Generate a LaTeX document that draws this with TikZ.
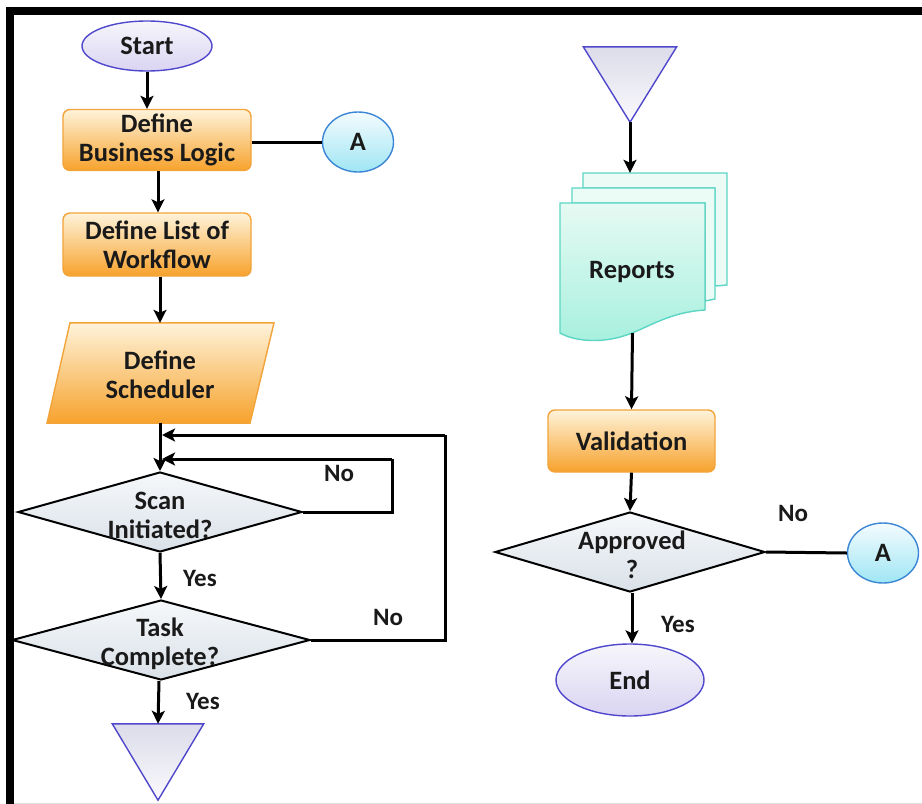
\documentclass[tikz,border=0pt]{standalone}
\usepackage{fontspec}
\setmainfont{Carlito}
\usetikzlibrary{shapes.geometric,arrows.meta,calc}

\definecolor{ink}{HTML}{1A1A1A}
\definecolor{orgTop}{HTML}{FEF3DA}
\definecolor{orgBot}{HTML}{F7A22C}
\definecolor{orgLine}{HTML}{F2A43A}
\definecolor{lavTop}{HTML}{F6F6FB}
\definecolor{lavBot}{HTML}{DAD4F2}
\definecolor{lavLine}{HTML}{5048CC}
\definecolor{cyTop}{HTML}{F4FBFE}
\definecolor{cyBot}{HTML}{9FE6F4}
\definecolor{cyLine}{HTML}{3C86D6}
\definecolor{dmTop}{HTML}{F6F8FA}
\definecolor{dmBot}{HTML}{D9E1E8}
\definecolor{mintTop}{HTML}{E6FAF3}
\definecolor{mintBot}{HTML}{A6F0DE}
\definecolor{mintLine}{HTML}{5CD6C4}
\definecolor{triTop}{HTML}{DCDCEA}
\definecolor{triBot}{HTML}{FAFAFD}

\tikzset{
  txt/.style={font=\fontsize{26.5}{31}\selectfont\bfseries, text=ink, align=center},
  lbl/.style={font=\fontsize{25}{29}\selectfont\bfseries, text=ink},
  procbox/.style={txt, rectangle, rounded corners=7, draw=orgLine, line width=1.4,
    top color=orgTop, bottom color=orgBot, minimum width=188, inner sep=0},
  terminal/.style={txt, ellipse, draw=lavLine, line width=1.4,
    top color=lavTop, bottom color=lavBot, inner sep=0},
  connector/.style={txt, ellipse, draw=cyLine, line width=1.4,
    top color=cyTop, bottom color=cyBot, inner sep=0, minimum width=71, minimum height=60},
  decision/.style={diamond, draw=black, line width=2, top color=dmTop, bottom color=dmBot, inner sep=0},
  frame/.style={rectangle, inner sep=0, minimum width=1, minimum height=1},
  flow/.style={line width=3, draw=black, -{Stealth[length=13,width=13,inset=3]}},
  link/.style={line width=3, draw=black},
}

\begin{document}
\begin{tikzpicture}[x=1pt,y=-1pt]
\useasboundingbox (0,0) rectangle (922,804);
\fill[white] (0,0) rectangle (922,804);

% page frame
\draw[line width=8] (10,804) -- (10,10.5) -- (922,10.5);
\draw[line width=1, black!12] (14,803) -- (922,803);

% ---------------- left column ----------------
\node[terminal, minimum width=130, minimum height=50] (start) at (147,46) {Start};
\node[procbox, minimum height=61] (logic) at (157,140) {Define\\[-2pt]Business Logic};
\node[connector] (a1) at (358,142) {A};
\node[procbox, minimum height=63] (wflow) at (157,244.5) {Define List of\\[-2pt]Workflow};

% scheduler (parallelogram drawn round an invisible frame node)
\node[frame, minimum width=180, minimum height=100] (sched) at (160,373) {};
\filldraw[draw=orgLine, line width=1.4, top color=orgTop, bottom color=orgBot]
  ($(sched.north)+(-90,0)$) -- ($(sched.north)+(114,0)$) --
  ($(sched.south)+(90,0)$) -- ($(sched.south)+(-113,0)$) -- cycle;
\node[txt] (schedtext) at (160,375) {Define\\[-2pt]Scheduler};

\node[decision, minimum width=284, minimum height=80] (scan) at (160,512) {};
\node[txt] (scantext) at (160,515) {Scan\\[-2pt]Initiated?};
\node[decision, minimum width=298, minimum height=80] (task) at (161,640) {};
\node[txt] (tasktext) at (160,644) {Task\\[-2pt]Complete?};

\node[frame, minimum width=91, minimum height=76] (offL) at (158,762) {};
\filldraw[draw=lavLine, line width=1.4, top color=triTop, bottom color=triBot]
  (offL.north west) -- (offL.north east) -- (offL.south) -- cycle;

% loop-back joints on the scheduler stem
\coordinate (j1) at (160,435);
\coordinate (j2) at (160,459);
\coordinate (c1) at (392,459);
\coordinate (c2) at (445,435);

\draw[flow] (start) -- (start |- logic.north);
\draw[link] (logic.east |- a1.west) -- (a1.west);
\draw[flow] ($(logic.south)+(1,0)$) -- ($(wflow.north)+(1,0)$);
\draw[flow] ($(wflow.south)+(3,0)$) -- (sched.north);
\draw[flow] (sched.south) -- (scan.north);
\draw[link] (scan.east) -| (c1);
\draw[flow] (c1) -- ($(j2)+(2,0)$);
\draw[link] (task.east) -| (c2);
\draw[flow] (c2) -- ($(j1)+(2,0)$);
\draw[flow] (scan.south) -- (task.north);
\draw[flow] ($(task.south)+(-2,0)$) -- (offL.north);

\node[lbl] (no1) at (339,473) {No};
\node[lbl] (yes1) at (200,578) {Yes};
\node[lbl] (no2) at (388,617) {No};
\node[lbl] (yes2) at (203,701) {Yes};

% ---------------- right column ----------------
\node[frame, minimum width=93, minimum height=75] (onR) at (630,84.5) {};
\filldraw[draw=lavLine, line width=1.4, top color=triTop, bottom color=triBot]
  (onR.north west) -- (onR.north east) -- (onR.south) -- cycle;

% stacked report sheets
\node[frame, minimum width=167, minimum height=160] (reports) at (643.5,253) {};
\begin{scope}[draw=mintLine, line width=1.4]
  \filldraw[fill=mintTop!70!white] (583,173) -- (727,173) -- (727,285) -- (715,286) -- (715,188) -- (583,188) -- cycle;
  \filldraw[fill=mintTop!80!white] (572,188) -- (715,188) -- (715,299) -- (705,301) -- (705,203) -- (572,203) -- cycle;
  \filldraw[top color=mintTop, bottom color=mintBot]
    (560,203) -- (705,203) -- (705,310)
    .. controls (672,312) and (652,325) .. (632,333)
    .. controls (605,344) and (576,342) .. (560,333) -- cycle;
\end{scope}
\node[txt] (reptext) at (632,272) {Reports};

\node[procbox, minimum width=167, minimum height=62] (valid) at (631.5,441) {Validation};
\node[decision, minimum width=270, minimum height=80] (appr) at (630,552) {};
\node[txt] (apprtext) at (632,555) {Approved\\[-2pt]?};
\node[connector] (a2) at (883,553) {A};
\node[terminal, minimum width=148, minimum height=72] (endn) at (630,680) {End};

\draw[flow] (onR.south) -- (onR.south |- reports.north);
\draw[flow] ($(reports.south)+(-11,0)$) -- ($(valid.north)+(0,0)$);
\draw[flow] (valid.south) -- (appr.north);
\draw[link] (appr.east) -- (a2.west);
\draw[flow] ($(appr.south)+(2,0)$) -- ($(endn.north)+(2,0)$);

\node[lbl] (no3) at (793,513) {No};
\node[lbl] (yes3) at (678,624) {Yes};
\end{tikzpicture}
\end{document}
